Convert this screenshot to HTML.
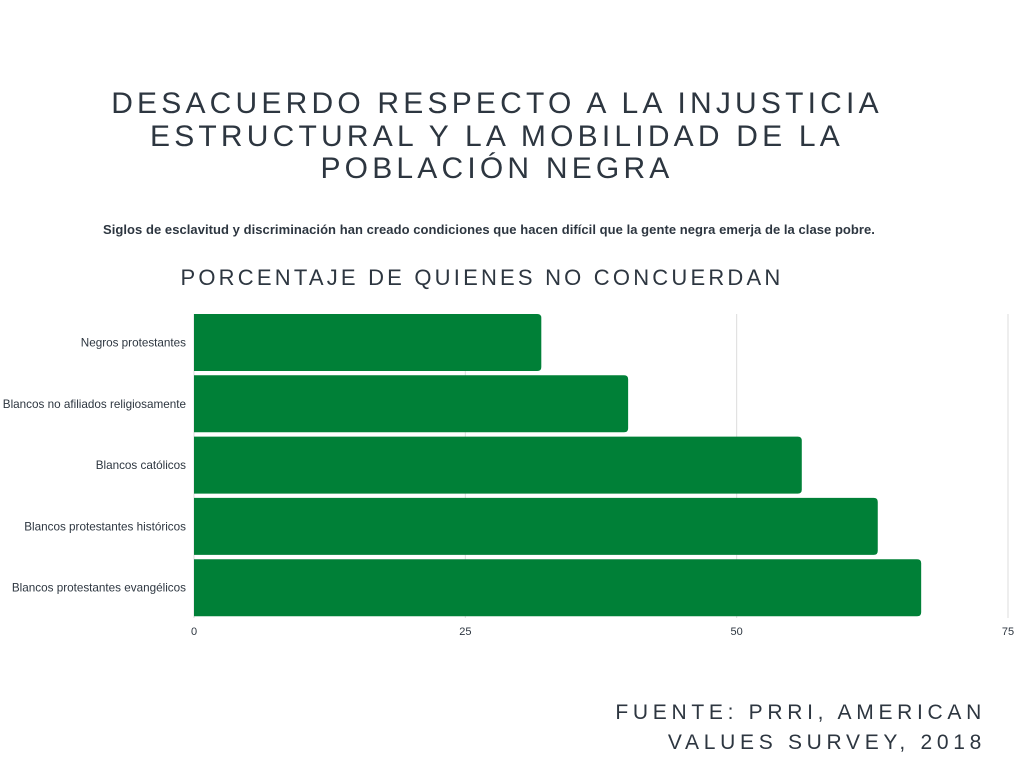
<!DOCTYPE html>
<html><head><meta charset="utf-8"><style>
body{margin:0;width:1024px;height:768px;background:#fff;font-family:"Liberation Sans",sans-serif;color:#2d3640;overflow:hidden;position:relative}
.t{position:absolute;left:0;width:990px;text-align:center}
</style></head><body>
<div class="t" style="top:88px;font-size:30px;letter-spacing:4.2px;line-height:32.5px;left:0;width:994px">DESACUERDO RESPECTO A LA INJUSTICIA<br>ESTRUCTURAL Y LA MOBILIDAD DE LA<br>POBLACIÓN NEGRA</div>
<div class="t" style="top:222px;font-size:13px;font-weight:bold;letter-spacing:0.05px;width:978px">Siglos de esclavitud y discriminación han creado condiciones que hacen difícil que la gente negra emerja de la clase pobre.</div>
<div class="t" style="top:265px;font-size:22px;letter-spacing:3.2px;width:964px">PORCENTAJE DE QUIENES NO CONCUERDAN</div>
<svg id="c" width="1024" height="768" style="position:absolute;left:0;top:0"></svg>
<div style="position:absolute;right:38px;top:698px;text-align:right;font-size:21px;letter-spacing:4.7px;line-height:30px">FUENTE: PRRI, AMERICAN<br>VALUES SURVEY, 2018</div>
<script>
const categories=["Negros protestantes","Blancos no afiliados religiosamente","Blancos católicos","Blancos protestantes históricos","Blancos protestantes evangélicos"];
const values=[32,40,56,63,67];
const ticks=[0,25,50,75];
const ns="http://www.w3.org/2000/svg",svg=document.getElementById('c');
const x=v=>194+v*(1008-194)/75;
const y=i=>314+i*61.3;
function mk(t,a){const e=document.createElementNS(ns,t);for(const k in a)e.setAttribute(k,a[k]);svg.appendChild(e);return e;}
ticks.forEach(t=>{
 const l=mk('line',{x1:x(t),x2:x(t),y1:314,y2:618,stroke:'#dcdcdc','stroke-width':1});
 
 
 const tx=mk('text',{x:x(t),y:635,'text-anchor':'middle','font-size':11,fill:'#2d3640','font-family':'Liberation Sans'});
 tx.textContent=t;
 
 
});
categories.forEach((c,i)=>{
 const w=x(values[i])-x(0),h=57,y0=y(i),r=4;
 const p=mk('path',{d:`M${x(0)},${y0}H${x(0)+w-r}Q${x(0)+w},${y0} ${x(0)+w},${y0+r}V${y0+h-r}Q${x(0)+w},${y0+h} ${x(0)+w-r},${y0+h}H${x(0)}Z`,fill:'#008037'});
 
 
 const t=mk('text',{x:186,y:y0+h/2+4,'text-anchor':'end','font-size':11.7,fill:'#2d3640','font-family':'Liberation Sans'});
 t.textContent=c;
 
 
});
</script>
</body></html>
